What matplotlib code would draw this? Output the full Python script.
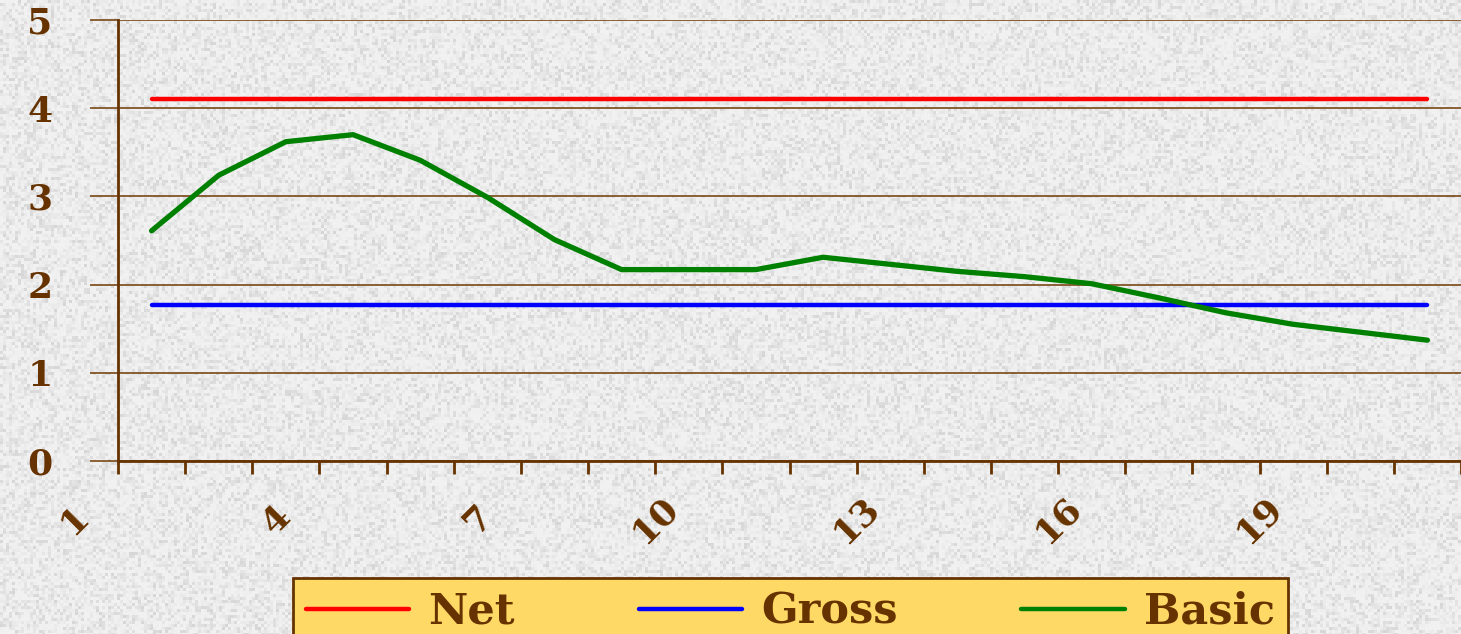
import numpy as np
import matplotlib
matplotlib.use("Agg")
import matplotlib.pyplot as plt
from matplotlib.transforms import ScaledTranslation

# ---- data ----
categories = list(range(1, 21))
net = [4.10] * 20
gross = [1.77] * 20
basic = [2.61, 3.24, 3.62, 3.70, 3.41, 2.99, 2.51, 2.17, 2.17, 2.17,
         2.31, 2.23, 2.15, 2.09, 2.01, 1.85, 1.68, 1.55, 1.46, 1.37]
xtick_values = [1, 4, 7, 10, 13, 16, 19]
xtick_labels = ["1", "4", "7", "10", "13", "16", "19"]
yticks = [0, 1, 2, 3, 4, 5]
series_names = ["Net", "Gross", "Basic"]

BROWN = "#663300"
GRID = "#7a4716"
W, H, DPI = 1461, 634, 100

plt.rcParams["font.family"] = ["DejaVu Serif"]
fig = plt.figure(figsize=(W / DPI, H / DPI), dpi=DPI)
fig.patch.set_facecolor("#e8e8e8")

# granite-like background texture (deterministic hash pattern)
yy, xx = np.mgrid[0:H, 0:W]
bi, bj = yy // 3, xx // 3
v = np.sin(bi * 12.9898 + bj * 78.233) * 43758.5453
v = v - np.floor(v)
g = 242 - 28 * v ** 2.5
tex = np.stack([g, g, g], axis=-1) / 255.0
fig.figimage(tex, xo=0, yo=0, zorder=-10)

left = 118 / W
bottom = (H - 461) / H
top = (H - 20) / H
ax = fig.add_axes([left, bottom, 1 - left, top - bottom])
ax.set_facecolor("none")

x = np.array(categories)
l_net, = ax.plot(x, net, color="#ff0000", lw=3.2, solid_capstyle="round", zorder=3)
l_gross, = ax.plot(x, gross, color="#0000ff", lw=3.2, solid_capstyle="round", zorder=3)
l_basic, = ax.plot(x, basic, color="#008000", lw=3.8, solid_capstyle="round",
                   solid_joinstyle="round", zorder=4)

px_per_cat = 67.65
ax.set_xlim(0.5, 0.5 + (W - 118) / px_per_cat)
ax.set_ylim(0, 5)

# y axis
ax.set_yticks(yticks)
ax.set_yticklabels([str(t) for t in yticks])
ax.yaxis.grid(True, color=GRID, lw=1.2)
ax.tick_params(axis="y", direction="out", length=20, width=1.2, color=GRID,
               pad=27, labelsize=26, labelcolor=BROWN)
for lab in ax.get_yticklabels():
    lab.set_fontweight("bold")

# x axis
ax.set_xticks(xtick_values)
ax.set_xticklabels(xtick_labels)
ax.set_xticks(np.arange(0.5, 21.0, 1.0), minor=True)
ax.tick_params(axis="x", which="major", length=0, pad=42.5, labelsize=26,
               labelcolor=BROWN)
ax.tick_params(axis="x", which="minor", direction="out", length=9.4, width=2,
               color=BROWN)
for lab in ax.get_xticklabels():
    lab.set_fontweight("bold")
    lab.set_rotation(45)
    lab.set_rotation_mode("anchor")
    lab.set_ha("center")
    lab.set_va("center")
    dx = -77 if len(lab.get_text()) == 1 else -101
    lab.set_transform(lab.get_transform() + ScaledTranslation(dx / DPI, 0, fig.dpi_scale_trans))

for s in ["top", "right"]:
    ax.spines[s].set_visible(False)
for s in ["left", "bottom"]:
    ax.spines[s].set_color(BROWN)
    ax.spines[s].set_linewidth(2)
    ax.spines[s].set_zorder(5)

leg = fig.legend([l_net, l_gross, l_basic], series_names, loc="upper left",
                 bbox_to_anchor=(293 / W, (H - 578) / H, (1288 - 293) / W, 0),
                 bbox_transform=fig.transFigure, mode="expand", ncol=3,
                 borderaxespad=0, borderpad=0.3, handlelength=2.4,
                 handletextpad=0.45, fancybox=False, framealpha=1,
                 prop={"family": "DejaVu Serif", "weight": "bold", "size": 31})
leg.get_frame().set_facecolor("#ffd966")
leg.get_frame().set_edgecolor(BROWN)
leg.get_frame().set_linewidth(2)
for t in leg.get_texts():
    t.set_color(BROWN)
for h in leg.legend_handles:
    h.set_linewidth(3.2)

fig.savefig("out.png", dpi=DPI)
